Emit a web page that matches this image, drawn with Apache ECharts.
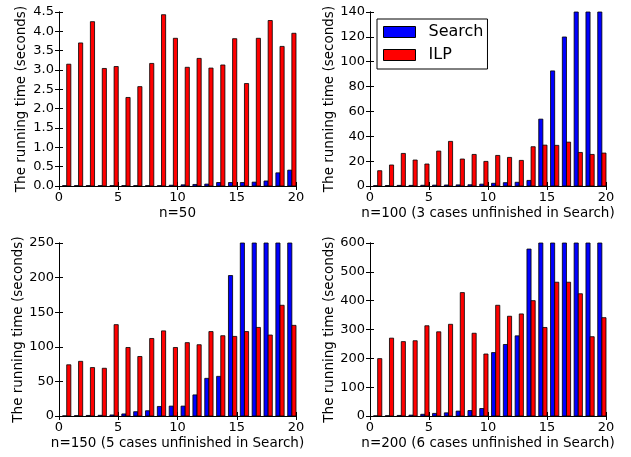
<!DOCTYPE html>
<html><head><meta charset="utf-8">
<script src="https://cdn.jsdelivr.net/npm/echarts@6/dist/echarts.min.js"></script>
<style>html,body{margin:0;padding:0;background:#fff}#c{width:631px;height:457px}</style>
</head><body><div id="c"></div>
<script>
// Unfinished runs (exceed the plotted range) – drawn clipped at the top of the axis
const UNFINISHED = 10000;
const T = UNFINISHED;

const cases = [1,2,3,4,5,6,7,8,9,10,11,12,13,14,15,16,17,18,19,20];

const search50 = [0.01,0.01,0.01,0.01,0.01,0.01,0.01,0.01,0.01,0.02,0.03,0.04,0.05,0.09,0.09,0.09,0.1,0.13,0.34,0.41];
const ilp50    = [3.15,3.70,4.25,3.04,3.09,2.29,2.57,3.17,4.43,3.82,3.07,3.30,3.05,3.13,3.81,2.65,3.82,4.28,3.61,3.95];

const search100 = [0.3,0.4,0.5,0.5,0.6,0.7,0.8,0.9,1.0,1.5,2.2,2.7,3.0,4.5,53.8,92.6,119.9,T,T,T];
const ilp100    = [12.3,16.9,26.2,20.9,17.7,28.1,35.9,21.7,25.4,19.8,24.6,23.0,20.6,31.6,32.9,32.7,35.3,27.0,25.4,26.5];

const search150 = [0.2,0.5,0.8,1.0,1.5,3.0,6.2,7.6,13.8,14.3,14.3,30.5,54.4,57.3,203,T,T,T,T,T];
const ilp150    = [74,79,70,69,132,99,86,112,123,99,106,103,122,116,115,122,128,117,160,131];

const search200 = [0.5,1,2,3,6,9,11,17,19,26,220,248,278,579,T,T,T,T,T,T];
const ilp200    = [199,270,258,261,313,292,318,428,287,215,384,346,354,400,307,464,464,424,275,341];

const xTicks = {min:0, max:20, interval:5};
const panels = [
  {search:search50,  ilp:ilp50,  yMax:4.5, yInt:0.5, dec:1, label:'n=50'},
  {search:search100, ilp:ilp100, yMax:140, yInt:20,  dec:0, label:'n=100 (3 cases unfinished in Search)'},
  {search:search150, ilp:ilp150, yMax:250, yInt:50,  dec:0, label:'n=150 (5 cases unfinished in Search)'},
  {search:search200, ilp:ilp200, yMax:600, yInt:100, dec:0, label:'n=200 (6 cases unfinished in Search)'}
];
const yName = 'The running time (seconds)';

const FONT = 'DejaVu Sans';
const grids = [
  {left:59,  top:12,  width:237, height:174},
  {left:370, top:12,  width:236, height:174},
  {left:59,  top:243, width:237, height:173},
  {left:370, top:243, width:236, height:173}
];

const BAR_W = 0.35;
function makeRender(offset, color){
  return function(params, api){
    const x = api.value(0), y = api.value(1);
    const p0 = api.coord([x + offset, 0]);
    const p1 = api.coord([x + offset + BAR_W, y]);
    const cs = params.coordSys;
    const top = Math.max(p1[1], cs.y);
    return {type:'rect', shape:{x:p0[0], y:top, width:p1[0]-p0[0], height:p0[1]-top},
      style:{fill:color, stroke:'#000', lineWidth:0.8}};
  };
}

const axisLine = {show:true, lineStyle:{color:'#000', width:1}};
const tick = {show:true, inside:true, length:4, lineStyle:{color:'#000'}};
const labelStyle = {color:'#000', fontFamily:FONT, fontSize:13};
const nameStyle = {color:'#000', fontFamily:FONT, fontSize:13.5};

const xAxis = [], yAxis = [], series = [];
panels.forEach((p, i) => {
  xAxis.push({type:'value', gridIndex:i, position:'bottom', ...xTicks, axisLine, axisTick:tick, splitLine:{show:false},
    axisLabel:{...labelStyle, margin:5}, name:p.label, nameLocation:'middle', nameGap:20,
    nameTextStyle:nameStyle});
  xAxis.push({type:'value', gridIndex:i, position:'top', ...xTicks, axisLine, axisTick:tick, splitLine:{show:false},
    axisLabel:{show:false}});
  yAxis.push({type:'value', gridIndex:i, position:'left', min:0, max:p.yMax, interval:p.yInt, axisLine, axisTick:tick,
    splitLine:{show:false}, axisLabel:{...labelStyle, margin:5, formatter:v => v.toFixed(p.dec)},
    name:yName, nameLocation:'middle', nameGap:31, nameRotate:90,
    nameTextStyle:nameStyle});
  yAxis.push({type:'value', gridIndex:i, position:'right', min:0, max:p.yMax, interval:p.yInt, axisLine, axisTick:tick,
    splitLine:{show:false}, axisLabel:{show:false}});
  series.push({type:'custom', name:'Search', xAxisIndex:2*i, yAxisIndex:2*i,
    itemStyle:{color:'#0000ff', borderColor:'#000', borderWidth:1},
    renderItem:makeRender(-0.7, '#0000ff'), data:cases.map((c,k)=>[c, p.search[k]])});
  series.push({type:'custom', name:'ILP', xAxisIndex:2*i, yAxisIndex:2*i,
    itemStyle:{color:'#ff0000', borderColor:'#000', borderWidth:1},
    renderItem:makeRender(-0.35, '#ff0000'), data:cases.map((c,k)=>[c, p.ilp[k]])});
});

const chart = echarts.init(document.getElementById('c'), null, {renderer:'canvas'});
chart.setOption({
  animation:false,
  backgroundColor:'#fff',
  grid:grids,
  xAxis, yAxis, series,
  legend:{
    data:[{name:'Search', icon:'rect'}, {name:'ILP', icon:'rect'}],
    orient:'vertical', left:377, top:19,
    padding:[5,4,6,6], itemGap:7, itemWidth:32, itemHeight:11,
    borderColor:'#000', borderWidth:1, backgroundColor:'#fff',
    selectedMode:false,
    itemStyle:{borderColor:'#000', borderWidth:1},
    textStyle:{color:'#000', fontFamily:FONT, fontSize:16, padding:[0,0,0,8]}
  }
});
</script>
</body></html>
